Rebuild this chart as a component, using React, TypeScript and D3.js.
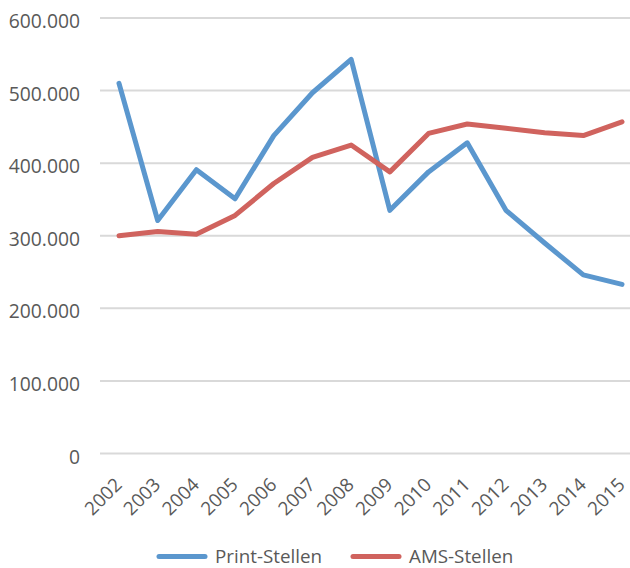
import * as d3 from "d3";
import * as React from "react";

const years = ["2002", "2003", "2004", "2005", "2006", "2007", "2008", "2009", "2010", "2011", "2012", "2013", "2014", "2015"];
const printStellen = [510000, 321000, 391000, 351000, 438000, 497000, 543000, 335000, 388000, 428000, 335000, 290000, 246000, 233000];
const amsStellen = [300000, 306000, 302000, 328000, 372000, 408000, 425000, 388000, 441000, 454000, 448000, 442000, 438000, 457000];
const yTicks = [0, 100000, 200000, 300000, 400000, 500000, 600000];

const seriesNames = ["Print-Stellen", "AMS-Stellen"];
const seriesColors = ["#5B97CE", "#D0635E"];

const width = 630;
const height = 568;
const font = "'Open Sans', sans-serif";
const textColor = "#595959";

const deLocale = d3.formatLocale({ decimal: ",", thousands: ".", grouping: [3], currency: ["", " €"] });
const fmt = deLocale.format(",");

export default function App() {
  const x = d3.scalePoint<string>().domain(years).range([119, 622]);
  const y = d3.scaleLinear().domain([0, 600000]).range([453.5, 18]);

  const line = d3.line<number>()
    .x((d, i) => x(years[i]) as number)
    .y((d) => y(d));

  const series = [printStellen, amsStellen];

  return (
    <div>
      <style>{"body{margin:0}"}</style>
      <svg width={width} height={height} style={{ display: "block" }}>
        <rect width={width} height={height} fill="#fff" />
        {/* grid */}
        {yTicks.map((t) => (
          <line key={"g" + t} x1={100} x2={641} y1={y(t)} y2={y(t)} stroke="#D9D9D9" strokeWidth={2} />
        ))}
        {/* y labels */}
        {yTicks.map((t) => (
          <text key={"yl" + t} x={80} y={y(t) + 2.5} textAnchor="end" dominantBaseline="central"
            fontFamily={font} fontSize={19.3} fill={textColor}>{fmt(t)}</text>
        ))}
        {/* x labels */}
        {years.map((yr) => (
          <text key={"xl" + yr} transform={"translate(" + ((x(yr) as number) + 4) + ",486) rotate(-45)"}
            textAnchor="end" fontFamily={font} fontSize={18.8} fill={textColor}>{yr}</text>
        ))}
        {/* lines */}
        {series.map((s, i) => (
          <path key={"s" + i} d={line(s) as string} fill="none" stroke={seriesColors[i]}
            strokeWidth={5} strokeLinejoin="round" strokeLinecap="round" />
        ))}
        {/* legend */}
        {seriesNames.map((name, i) => {
          const lx = i === 0 ? 157 : 351;
          return (
            <g key={"lg" + i}>
              <line x1={lx + 2} x2={lx + 48} y1={556.5} y2={556.5} stroke={seriesColors[i]} strokeWidth={5} strokeLinecap="round" />
              <text x={lx + 58} y={562.5} fontFamily={font} fontSize={18.8} fill={textColor}>{name}</text>
            </g>
          );
        })}
      </svg>
    </div>
  );
}
